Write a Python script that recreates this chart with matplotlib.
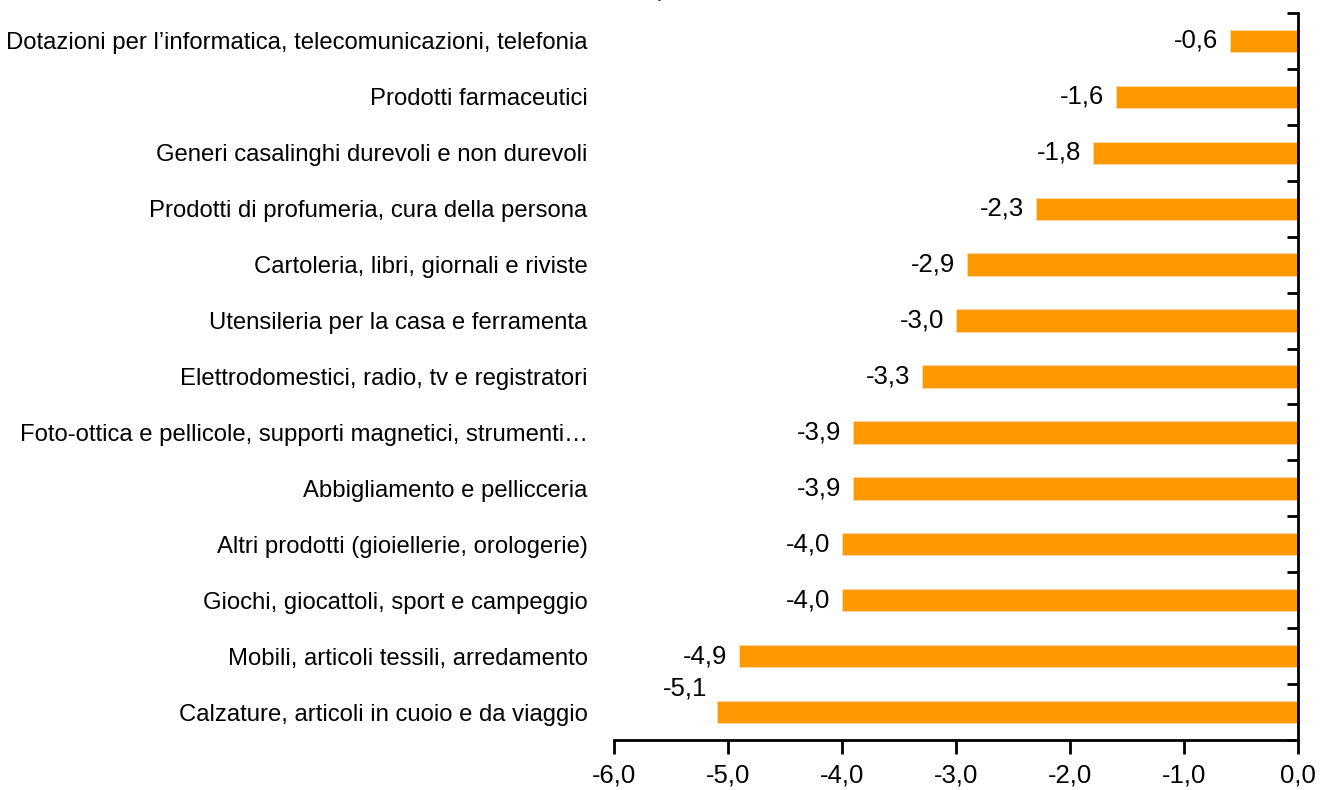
import matplotlib.pyplot as plt
import numpy as np

plt.rcParams['font.family'] = ['Liberation Sans', 'DejaVu Sans']
plt.rcParams['font.size'] = 18

categories = [
    "Dotazioni per l\u2019informatica, telecomunicazioni, telefonia",
    "Prodotti farmaceutici",
    "Generi casalinghi durevoli e non durevoli",
    "Prodotti di profumeria, cura della persona",
    "Cartoleria, libri, giornali e riviste",
    "Utensileria per la casa e ferramenta",
    "Elettrodomestici, radio, tv e registratori",
    "Foto-ottica e pellicole, supporti magnetici, strumenti\u2026",
    "Abbigliamento e pellicceria",
    "Altri prodotti (gioiellerie, orologerie)",
    "Giochi, giocattoli, sport e campeggio",
    "Mobili, articoli tessili, arredamento",
    "Calzature, articoli in cuoio e da viaggio",
]
values = [-0.6, -1.6, -1.8, -2.3, -2.9, -3.0, -3.3, -3.9, -3.9, -4.0, -4.0, -4.9, -5.1]
xticks = [-6, -5, -4, -3, -2, -1, 0]

def comma(v):
    return f"{v:.1f}".replace('.', ',')

fig = plt.figure(figsize=(13.2, 7.9), dpi=100)
ax = fig.add_axes([614/1320, 50/790, 684/1320, 727/790])

n = len(categories)
ypos = np.arange(n)[::-1]
ax.barh(ypos, values, height=0.4, color='#FF9900', edgecolor='#FFD9A0', linewidth=0.6)

ax.set_xlim(-6, 0)
ax.set_ylim(-0.5, n - 0.5)
ax.set_xticks(xticks)
ax.set_xticklabels([comma(v) for v in xticks], fontsize=18.5)

ax.set_yticks(ypos)
ax.set_yticklabels(categories, fontsize=17.2)
ax.set_yticks(np.arange(n + 1) - 0.5, minor=True)
ax.tick_params(axis='y', which='major', left=False, right=False, labelleft=True, pad=15.5)
ax.tick_params(axis='y', which='minor', left=False, right=True, direction='in', length=8, width=2)
ax.tick_params(axis='x', direction='out', length=10, width=2, pad=7)

for s in ['left', 'top']:
    ax.spines[s].set_visible(False)
for s in ['right', 'bottom']:
    ax.spines[s].set_linewidth(2)

# value labels
for i, (y, v) in enumerate(zip(ypos, values)):
    if i == n - 1:
        ax.annotate(comma(v), (v, y), xytext=(-6.5, 17), textcoords='offset points',
                    ha='right', va='center', fontsize=18.5)
    else:
        ax.annotate(comma(v), (v, y), xytext=(-8.5, 0), textcoords='offset points',
                    ha='right', va='center', fontsize=18.5)

# title, cut at top edge as in the source
fig.text(0.505, 1.013, "sull\u2019anno precedente", ha='center', va='center',
         fontsize=17, color='#222222')

fig.savefig('out.png', dpi=100)
